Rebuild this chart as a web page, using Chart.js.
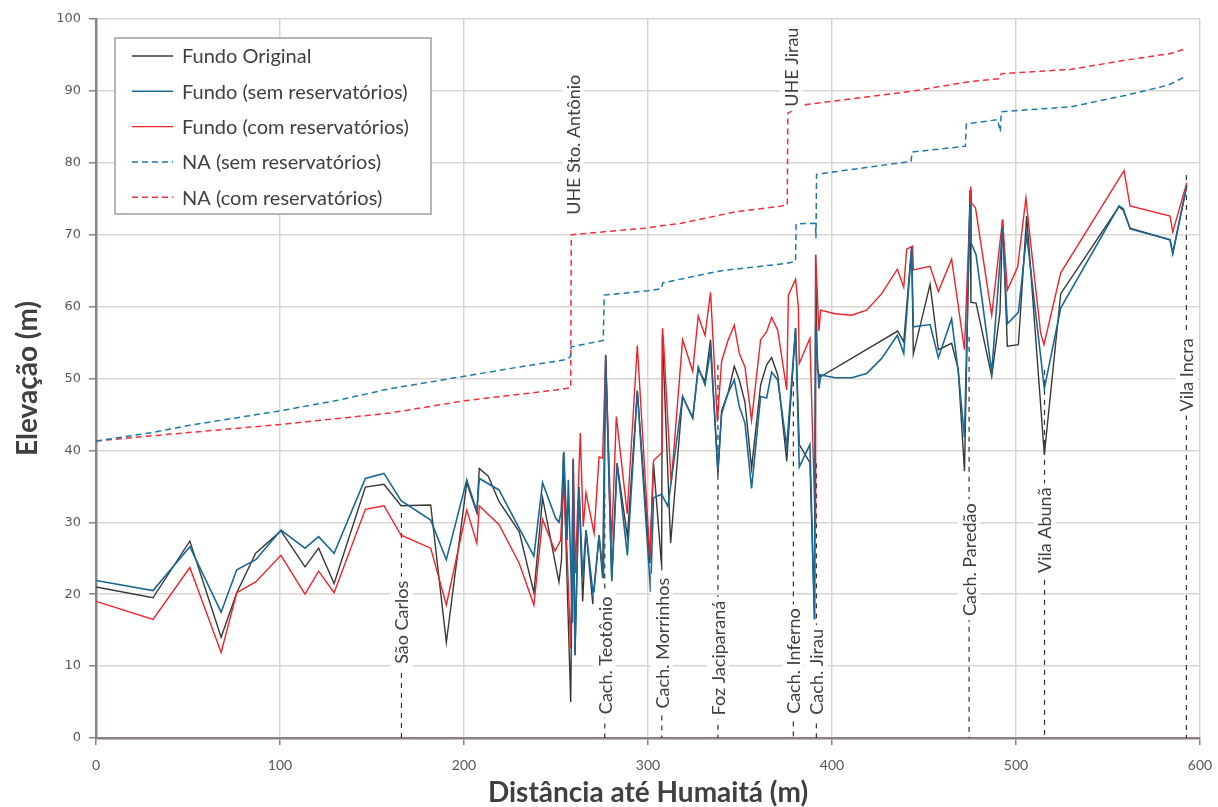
<!DOCTYPE html>
<html>
<head>
<meta charset="utf-8">
<script src="https://cdn.jsdelivr.net/npm/chart.js@4.4.0/dist/chart.umd.min.js"></script>
<style>
  html, body { margin: 0; padding: 0; background: #fff; }
</style>
</head>
<body>
<canvas id="chart" width="1218" height="807"></canvas>
<script>
// distance (km, labelled m) and elevation (m) of each profile
const seriesLabels = ["Fundo Original", "Fundo (sem reservatórios)", "Fundo (com reservatórios)",
  "NA (sem reservatórios)", "NA (com reservatórios)"];

const origDist = [0, 31, 51, 68, 76.5, 86.8, 100.5, 113.6, 121, 129.4, 146.4, 156.5, 165.8, 181.9, 190.4,
  201.5, 207, 208.3, 213.2, 219, 230, 238, 242.7, 251.6, 253, 254, 256, 258, 259.3, 260.3, 262.5, 264.5,
  266.3, 270, 273.4, 275.3, 277, 280.3, 283.2, 288.8, 294.2, 301, 303, 307.4, 307.8, 312.3, 318.8, 324.3,
  327.3, 331, 334, 338, 340, 343.6, 346.9, 349.6, 352.7, 356.3, 361.2, 364.5, 367.2, 370.5, 375.4, 380.2,
  382.2, 388, 390.5, 391.1, 392, 393.5, 435.7, 439, 443.3, 444.2, 453.3, 457.8, 465, 468.6, 472, 475,
  475.5, 478.3, 486.8, 491.3, 492.7, 495.3, 501.3, 505.8, 515.4, 524.3, 556, 558.3, 562, 583.7, 585.2, 592.8];
const origElev = [21.0, 19.5, 27.4, 14.0, 20.2, 25.7, 28.8, 23.8, 26.4, 21.5, 34.9, 35.3, 32.3, 32.4, 13.3,
  35.5, 31.3, 37.5, 36.4, 32.9, 28.7, 20.2, 33.4, 21.7, 24.8, 39.6, 22, 5.0, 38.7, 11.5, 34.9, 19,
  28.9, 18.6, 28.2, 22.3, 53.2, 22, 38.2, 28, 48.3, 24.3, 38.2, 23.9, 56.1, 27.1, 47.5, 44.5,
  51.3, 49.6, 55.4, 36.6, 45.5, 48.1, 51.7, 49.8, 46.7, 37.5, 49.1, 51.9, 52.9, 50.5, 38.5, 57,
  40.8, 38.3, 16.5, 67.2, 51.2, 50.2, 56.6, 55.1, 68.4, 53.4, 63.1, 54, 54.9, 51.3, 37.1, 76.2,
  60.6, 60.5, 50.3, 59.2, 72.1, 54.5, 54.7, 72.6, 39.4, 61.8, 73.9, 73.4, 70.9, 69.3, 67.4, 76.9];

const semDist = [0, 31, 51, 68, 76.5, 86.8, 100.5, 113.6, 121, 129.4, 146.4, 156.5, 165.8, 181.9, 190.4,
  201.5, 207, 208.3, 219, 238, 242.7, 249.8, 251.6, 252.8, 254.3, 256, 256.7, 258.9, 259.3, 260.3, 262.5,
  264.5, 266.3, 270.3, 273.4, 275.8, 277, 280.3, 283.2, 288.8, 294.2, 301.4, 303, 307.4, 310.8, 318.8,
  324.3, 327.3, 331, 334, 338, 340, 343.6, 346.9, 349.6, 352.7, 356.3, 361.2, 364.5, 367.2, 370.5, 375.4,
  380.2, 382.2, 388, 390.5, 391.1, 392.9, 393.9, 401.6, 410.7, 418.8, 427, 435.5, 439, 443.3, 444.2, 453.3,
  457.8, 465, 468.6, 472, 475, 475.5, 478.3, 486.8, 492.7, 495.3, 501.3, 505.8, 515.4, 524.3, 556, 558.3,
  562, 583.7, 585.2, 592.8];
const semElev = [21.9, 20.5, 26.6, 17.5, 23.4, 24.8, 28.9, 26.4, 28, 25.7, 36.1, 36.8, 33, 30.3, 24.8,
  35.9, 31.5, 36.1, 34.5, 25.3, 35.5, 30.6, 30, 31.5, 39.8, 27.5, 35.9, 16, 38.7, 11.5, 34.9,
  22.4, 28.9, 19.7, 28.2, 22.2, 53.3, 21.8, 38.2, 25.4, 48.3, 20.3, 33.4, 33.9, 32.2, 47.5,
  44.5, 51.6, 49.1, 54, 37.3, 45.1, 48, 49.8, 46.1, 43.8, 34.7, 47.5, 47.3, 50.9, 49.8, 40.5,
  57, 37.7, 40.8, 16.5, 57.5, 48.6, 50.5, 50.1, 50.1, 50.7, 52.8, 56, 53.5, 68.2, 57.2, 57.5,
  52.9, 58.3, 51, 41.8, 74.4, 68.9, 67.2, 50.9, 71, 57.6, 59.2, 70, 48.6, 59.8, 74, 73.6,
  70.8, 69.3, 67.4, 76.8];

const comDist = [0, 31, 51, 68, 76.5, 86.8, 100.5, 113.6, 121, 129.4, 146.4, 156.5, 165.8, 181.9, 190.4,
  201.5, 207, 208.3, 213.2, 219, 230, 238, 242.7, 249.5, 252.5, 254, 256, 258, 259.4, 260.5, 263.2, 264.8,
  266.3, 270.7, 273.4, 275.3, 277, 280.2, 282.8, 288.7, 294.2, 301, 303, 307.6, 307.9, 308.6, 312.6, 318.8,
  324.3, 327.3, 331, 334, 337.7, 340, 343.6, 346.9, 349.6, 352.7, 356.3, 361.2, 364.5, 367.2, 370.5, 375.4,
  376.3, 380.2, 381.7, 382.2, 388, 390.8, 391.1, 392.9, 393.8, 401.6, 410.7, 418.8, 427, 435.5, 439, 440.6,
  443.8, 444.2, 453.3, 457.8, 465, 472, 475.4, 475.8, 478, 486.8, 492.7, 495.3, 500.9, 505.4, 507.6, 513.4,
  515.2, 524.3, 558.7, 562, 583.7, 585.2, 592.8];
const comElev = [19, 16.5, 23.7, 11.9, 20.2, 21.7, 25.4, 20, 23.2, 20.2, 31.8, 32.3, 28.2, 26.4, 18.5,
  31.7, 27.1, 32.3, 31.1, 29.7, 24.3, 18.5, 30.4, 26, 27.5, 35.4, 26, 12.5, 38.9, 22.9, 42.4, 29.4,
  34.1, 28.5, 39.1, 38.9, 53, 27.1, 44.7, 31.2, 54.6, 25.2, 38.6, 39.7, 57, 54.4, 35.4, 55.4,
  51, 58.7, 56, 62, 44, 52.4, 55.4, 57.4, 53.5, 51.6, 44.2, 55.4, 56.5, 58.5, 56.7, 48.4,
  61.6, 63.8, 60, 52.1, 55.6, 30, 67.2, 56.6, 59.5, 59, 58.8, 59.5, 61.8, 65.2, 62.7, 68,
  68.4, 65.1, 65.6, 62.1, 66.6, 54, 76.7, 74.4, 73.7, 58.8, 72.1, 62.3, 65.5, 75.1, 69.7, 56.3,
  54.7, 64.7, 78.9, 74, 72.6, 70.4, 77.2];

const naSemDist = [0, 31, 51, 100, 132, 160, 200, 230, 255, 257.8, 258.2, 275.7, 276.2, 300, 307.4, 308, 340,
  375, 380.2, 380.5, 391, 391.3, 391.6, 443, 443.5, 472.5, 473, 490, 491.5, 492, 530, 560, 582.6, 591.3];
const naSemElev = [41.3, 42.5, 43.5, 45.5, 47, 48.6, 50.3, 51.6, 52.6, 53, 54.4, 55.3, 61.6, 62.2, 62.5, 63.3, 65,
  66, 66.3, 71.5, 71.6, 69.5, 78.4, 80.2, 81.5, 82.3, 85.4, 86, 84.3, 87.1, 87.8, 89.4, 90.8, 91.9];

const naComDist = [0, 29, 100, 160, 200, 250, 258, 258.3, 298, 318, 348, 375.7, 376, 386, 442, 475, 491, 492,
  530, 557.6, 584, 591.3];
const naComElev = [41.3, 42, 43.6, 45.2, 46.9, 48.4, 48.7, 70, 70.9, 71.6, 73.2, 74.1, 86.9, 88.1, 89.9, 91.3, 91.7,
  92.4, 93.0, 94.2, 95.2, 95.8];

// reference points along the river
const markerNames = ["São Carlos", "Cach. Teotônio", "Cach. Morrinhos", "Foz Jaciparaná", "Cach. Inferno",
  "Cach. Jirau", "Cach. Paredão", "Vila Abunã", "Vila Incra"];
const markerDist = [166, 276.5, 307.5, 338, 379, 391.5, 474.5, 515.5, 592.6];
const markerTop = [31.3, 34, 24, 51.9, 49.6, 38.2, 55.8, 51.2, 78.3];
const markerLabelElev = [16.1, 11.5, 13.2, 11.1, 10.7, 9.2, 24.8, 28.9, 50.5];

const damNames = ["UHE Sto. Antônio", "UHE Jirau"];
const damDist = [259.5, 378];
const damLabelElev = [82.5, 93.3];

function pts(xs, ys) {
  return xs.map((x, i) => ({ x: x, y: ys[i] }));
}

const datasets = [
  { label: seriesLabels[0], data: pts(origDist, origElev), borderColor: "#383838", borderWidth: 1.4, order: 2 },
  { label: seriesLabels[1], data: pts(semDist, semElev), borderColor: "#1a6894", borderWidth: 1.6, order: 0 },
  { label: seriesLabels[2], data: pts(comDist, comElev), borderColor: "#ee2229", borderWidth: 1.4, order: 1 },
  { label: seriesLabels[3], data: pts(naSemDist, naSemElev), borderColor: "#1d77ab", borderWidth: 1.5, borderDash: [6, 4], order: 3 },
  { label: seriesLabels[4], data: pts(naComDist, naComElev), borderColor: "#f0303c", borderWidth: 1.5, borderDash: [6, 4], order: 4 }
];

markerDist.forEach((d, i) => {
  datasets.push({
    label: markerNames[i],
    data: [{ x: d, y: markerTop[i] }, { x: d, y: 0 }],
    borderColor: "#333333",
    borderWidth: 1.2,
    borderDash: [5, 5],
    order: 6
  });
});

datasets.forEach(ds => {
  ds.showLine = true;
  ds.pointRadius = 0;
  ds.pointHoverRadius = 0;
  ds.tension = 0;
  ds.fill = false;
});

// rotated place names with a white box behind them
const placeLabels = {
  id: "placeLabels",
  afterDatasetsDraw(chart) {
    const ctx = chart.ctx;
    const xs = chart.scales.x, ys = chart.scales.y;
    ctx.save();
    ctx.font = "18px Lato";
    ctx.textAlign = "center";
    ctx.textBaseline = "middle";
    function drawOne(text, d, v) {
      const px = xs.getPixelForValue(d);
      const py = ys.getPixelForValue(v);
      const w = ctx.measureText(text).width;
      ctx.save();
      ctx.translate(px, py);
      ctx.rotate(-Math.PI / 2);
      ctx.fillStyle = "#ffffff";
      ctx.fillRect(-w / 2 - 4, -11, w + 8, 22);
      ctx.fillStyle = "#404040";
      ctx.fillText(text, 0, 1);
      ctx.restore();
    }
    markerNames.forEach((n, i) => drawOne(n, markerDist[i], markerLabelElev[i]));
    damNames.forEach((n, i) => drawOne(n, damDist[i], damLabelElev[i]));
    ctx.restore();
  }
};

const legendBox = {
  id: "legendBox",
  afterDatasetsDraw(chart) {
    const ctx = chart.ctx, area = chart.chartArea;
    const x0 = area.left + 19, y0 = area.top + 19, w = 316, h = 176;
    ctx.save();
    ctx.fillStyle = "#ffffff";
    ctx.fillRect(x0, y0, w, h);
    ctx.strokeStyle = "#a39b98";
    ctx.lineWidth = 1.5;
    ctx.strokeRect(x0, y0, w, h);
    ctx.font = "20px Lato";
    ctx.textBaseline = "middle";
    seriesLabels.forEach((label, i) => {
      const ds = chart.data.datasets[i];
      const y = y0 + 18 + i * 35.3;
      ctx.strokeStyle = ds.borderColor;
      ctx.lineWidth = ds.borderWidth;
      ctx.setLineDash(ds.borderDash || []);
      ctx.beginPath();
      ctx.moveTo(x0 + 17, y);
      ctx.lineTo(x0 + 58, y);
      ctx.stroke();
      ctx.setLineDash([]);
      ctx.fillStyle = "#404040";
      ctx.fillText(label, x0 + 67, y + 1);
    });
    ctx.restore();
  }
};

new Chart(document.getElementById("chart"), {
  type: "scatter",
  data: { datasets: datasets },
  options: {
    responsive: false,
    animation: false,
    devicePixelRatio: 1,
    layout: { padding: { top: 19, right: 18, left: 0, bottom: 0 } },
    plugins: {
      legend: { display: false },
      tooltip: { enabled: false }
    },
    scales: {
      x: {
        type: "linear",
        min: 0,
        max: 600,
        afterFit: function (scale) {
          scale.height = 69;
          scale.paddingRight = 0;
          scale.paddingLeft = 0;
        },
        ticks: { stepSize: 100, color: "#595959", font: { family: "Lato", size: 14 }, padding: 12 },
        grid: { color: "#dbd5d2", lineWidth: 1.5, tickColor: "#8c8280", tickLength: 7 },
        border: { color: "#8c8280", width: 2.5 },
        title: {
          display: true,
          text: "Distância até Humaitá (m)",
          color: "#404040",
          font: { family: "Lato", size: 28, weight: "bold", lineHeight: 1 },
          padding: { top: 0, bottom: 0 }
        }
      },
      y: {
        min: 0,
        max: 100,
        afterFit: function (scale) { scale.width = 96; },
        ticks: { stepSize: 10, color: "#595959", font: { family: "DejaVu Sans", size: 13 }, padding: 8 },
        grid: { color: "#dbd5d2", lineWidth: 1.5, tickColor: "#8c8280", tickLength: 7 },
        border: { color: "#8c8280", width: 2.5 },
        title: {
          display: true,
          text: "Elevação (m)",
          color: "#404040",
          font: { family: "Lato", size: 28, weight: "bold", lineHeight: 1 },
          padding: { top: 14, bottom: 0 }
        }
      }
    }
  },
  plugins: [placeLabels, legendBox]
});
</script>
</body>
</html>
